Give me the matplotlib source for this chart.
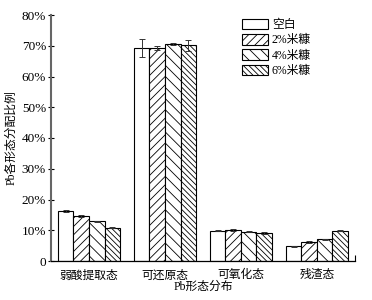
import matplotlib
matplotlib.use("Agg")
import matplotlib.pyplot as plt
import numpy as np

plt.rcParams['font.family'] = ['Liberation Serif', 'Noto Sans CJK SC']
plt.rcParams['hatch.linewidth'] = 0.6

# data
categories = ["弱酸提取态", "可还原态", "可氧化态", "残渣态"]
series_names = ["空白", "2%米糠", "4%米糠", "6%米糠"]
values = [
    [16.2, 69.3, 9.8, 4.8],
    [14.6, 69.2, 10.0, 6.2],
    [12.9, 70.6, 9.5, 7.1],
    [10.8, 70.1, 9.1, 9.9],
]
errors = [
    [0.4, 3.0, 0.2, 0.1],
    [0.4, 0.7, 0.3, 0.2],
    [0.2, 0.3, 0.2, 0.2],
    [0.2, 1.8, 0.2, 0.3],
]
hatches = ["", "////", "\\\\\\", "\\\\\\\\\\\\"]
yticks = [0, 10, 20, 30, 40, 50, 60, 70, 80]
ytick_labels = ["0", "10%", "20%", "30%", "40%", "50%", "60%", "70%", "80%"]

fig = plt.figure(figsize=(3.72, 3.0), dpi=100)
ax = fig.add_axes([0.137, 0.13, 0.817, 0.82])

x = np.arange(len(categories))
width = 0.205
for i, name in enumerate(series_names):
    pos = x + (i - 1.5) * width
    ax.bar(pos, values[i], width, yerr=errors[i], color="white",
           edgecolor="black", linewidth=0.8, hatch=hatches[i], label=name,
           error_kw=dict(ecolor="#333333", elinewidth=0.7, capsize=2.5, capthick=0.7))

ax.set_xlim(-0.5, 3.5)
ax.set_ylim(0, 80)
ax.set_xticks(x)
ax.set_xticklabels(categories, fontsize=8.5)
ax.tick_params(axis="x", which="major", length=0, pad=6)
ax.set_xticks([3.5], minor=True)
ax.tick_params(axis="x", which="minor", direction="in", length=4, width=0.8)
ax.set_yticks(yticks)
ax.set_yticklabels(ytick_labels, fontsize=9.5)
ax.tick_params(axis="y", direction="inout", length=5, width=0.8, pad=1)

ax.spines["top"].set_visible(False)
ax.spines["right"].set_visible(False)
ax.spines["left"].set_color("#666666")
ax.spines["left"].set_linewidth(1.5)
ax.spines["bottom"].set_linewidth(0.9)

ax.set_xlabel("Pb形态分布", fontsize=8.5, labelpad=0)
ax.set_ylabel("Pb各形态分配比例", fontsize=8.5, labelpad=3)

ax.legend(loc="upper left", bbox_to_anchor=(0.63, 0.985), fontsize=8.5,
          frameon=False, handlelength=2.2, handleheight=1.0,
          labelspacing=0.25, handletextpad=0.3, borderaxespad=0.0,
          borderpad=0.0)

fig.savefig("out.png", dpi=100)
